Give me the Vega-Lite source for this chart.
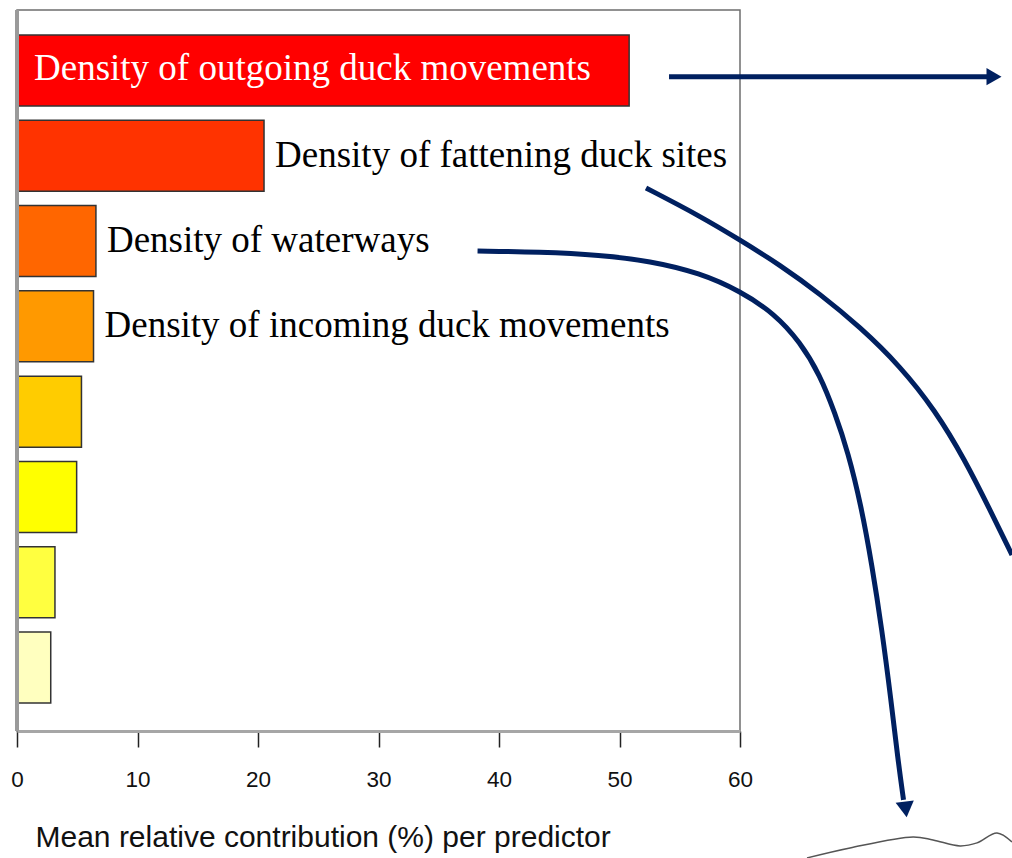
{
  "$schema": "https://vega.github.io/schema/vega-lite/v6.json",
  "width": 723,
  "height": 721,
  "autosize": {"type": "none"},
  "padding": {"left": 17, "top": 10, "right": 272, "bottom": 127},
  "background": "white",
  "config": {"view": {"stroke": "#6e6e6e", "strokeWidth": 1.5}},
  "datasets": {
    "bars": [
      {"predictor": "Density of outgoing duck movements", "contribution": 50.8},
      {"predictor": "Density of fattening duck sites", "contribution": 20.5},
      {"predictor": "Density of waterways", "contribution": 6.55},
      {"predictor": "Density of incoming duck movements", "contribution": 6.35},
      {"predictor": "Predictor 5", "contribution": 5.35},
      {"predictor": "Predictor 6", "contribution": 4.95},
      {"predictor": "Predictor 7", "contribution": 3.15},
      {"predictor": "Predictor 8", "contribution": 2.8}
    ],
    "paths": [
      {"path": "outgoing", "i": 0, "x": 54.11, "y": 1.0727},
      {"path": "outgoing", "i": 1, "x": 80.6, "y": 1.0727},
      {"path": "fattening", "i": 0, "x": 52.2, "y": 2.3775},
      {"path": "fattening", "i": 1, "x": 56.68, "y": 2.7057},
      {"path": "fattening", "i": 2, "x": 60.0, "y": 2.9871},
      {"path": "fattening", "i": 3, "x": 63.32, "y": 3.2802},
      {"path": "fattening", "i": 4, "x": 66.64, "y": 3.6202},
      {"path": "fattening", "i": 5, "x": 69.96, "y": 4.007},
      {"path": "fattening", "i": 6, "x": 73.28, "y": 4.4642},
      {"path": "fattening", "i": 7, "x": 76.18, "y": 4.9801},
      {"path": "fattening", "i": 8, "x": 78.67, "y": 5.5662},
      {"path": "fattening", "i": 9, "x": 80.75, "y": 6.1524},
      {"path": "fattening", "i": 10, "x": 82.57, "y": 6.68},
      {"path": "waterways", "i": 0, "x": 38.22, "y": 3.1161},
      {"path": "waterways", "i": 1, "x": 43.4, "y": 3.1278},
      {"path": "waterways", "i": 2, "x": 48.38, "y": 3.163},
      {"path": "waterways", "i": 3, "x": 52.53, "y": 3.2333},
      {"path": "waterways", "i": 4, "x": 56.68, "y": 3.374},
      {"path": "waterways", "i": 5, "x": 60.0, "y": 3.585},
      {"path": "waterways", "i": 6, "x": 62.9, "y": 3.8546},
      {"path": "waterways", "i": 7, "x": 64.98, "y": 4.1829},
      {"path": "waterways", "i": 8, "x": 66.64, "y": 4.57},
      {"path": "waterways", "i": 9, "x": 67.88, "y": 5.016},
      {"path": "waterways", "i": 10, "x": 68.96, "y": 5.473},
      {"path": "waterways", "i": 11, "x": 70.04, "y": 6.094},
      {"path": "waterways", "i": 12, "x": 70.95, "y": 6.797},
      {"path": "waterways", "i": 13, "x": 71.78, "y": 7.559},
      {"path": "waterways", "i": 14, "x": 72.53, "y": 8.38},
      {"path": "waterways", "i": 15, "x": 73.11, "y": 9.083},
      {"path": "waterways", "i": 16, "x": 73.57, "y": 9.552},
      {"path": "map outline", "i": 0, "x": 65.56, "y": 10.232},
      {"path": "map outline", "i": 1, "x": 69.13, "y": 10.115},
      {"path": "map outline", "i": 2, "x": 74.36, "y": 9.986},
      {"path": "map outline", "i": 3, "x": 76.02, "y": 10.021},
      {"path": "map outline", "i": 4, "x": 78.26, "y": 10.091},
      {"path": "map outline", "i": 5, "x": 79.67, "y": 10.056},
      {"path": "map outline", "i": 6, "x": 81.33, "y": 9.939},
      {"path": "map outline", "i": 7, "x": 82.57, "y": 10.045}
    ],
    "heads": [
      {"head": "outgoing", "x": 81.08, "y": 1.0727},
      {"head": "waterways", "x": 73.75, "y": 9.664}
    ]
  },
  "layer": [
    {
      "layer": [
        {
          "data": {"name": "bars"},
          "mark": {"type": "bar", "stroke": "#333333", "strokeWidth": 1.5},
          "encoding": {
            "y": {"field": "predictor", "type": "nominal", "sort": null, "axis": null,
                  "scale": {"paddingInner": 0.1675, "paddingOuter": 0.3105, "align": 0.472}},
            "x": {"field": "contribution", "type": "quantitative",
                  "scale": {"domain": [0, 60], "nice": false, "zero": true},
                  "axis": {"title": "Mean relative contribution (%) per predictor", "values": [0, 10, 20, 30, 40, 50, 60], "grid": false, "domainColor": "#a6a6a6", "domainWidth": 3, "tickColor": "#222222", "tickWidth": 1.5, "tickSize": 16, "labelFont": "Liberation Sans", "labelFontSize": 22.5, "labelColor": "#111111", "labelPadding": 21, "labelFlush": false, "labelOverlap": false, "titleFont": "Liberation Sans", "titleFontSize": 30, "titleFontWeight": "normal", "titleColor": "#111111", "titleX": 18, "titleY": 115, "titleAlign": "left", "titleAnchor": "start", "titleBaseline": "alphabetic"}},
            "color": {"field": "predictor", "type": "nominal", "sort": null, "legend": null,
                      "scale": {"range": ["#FF0000", "#FF3300", "#FF6600", "#FF9900", "#FFCC00", "#FFFF00", "#FFFF40", "#FFFFBF"]}}
          }
        },
        {
          "data": {"name": "bars"},
          "mark": {"type": "rule", "color": "#9a9a9a", "strokeWidth": 3},
          "encoding": {"x": {"datum": 0, "type": "quantitative", "scale": {"domain": [0, 60]},
            "axis": {"title": "Mean relative contribution (%) per predictor", "values": [0, 10, 20, 30, 40, 50, 60], "grid": false, "domainColor": "#a6a6a6", "domainWidth": 3, "tickColor": "#222222", "tickWidth": 1.5, "tickSize": 16, "labelFont": "Liberation Sans", "labelFontSize": 22.5, "labelColor": "#111111", "labelPadding": 21, "labelFlush": false, "labelOverlap": false, "titleFont": "Liberation Sans", "titleFontSize": 30, "titleFontWeight": "normal", "titleColor": "#111111", "titleX": 18, "titleY": 115, "titleAlign": "left", "titleAnchor": "start", "titleBaseline": "alphabetic"}}}
        },
        {
          "data": {"name": "bars"},
          "transform": [{"filter": {"field": "predictor", "equal": "Density of outgoing duck movements"}}],
          "mark": {"type": "text", "font": "Liberation Serif", "fontSize": 37, "color": "white",
                   "align": "left", "baseline": "middle", "dx": 17, "dy": -2},
          "encoding": {
            "y": {"field": "predictor", "type": "nominal", "sort": null},
            "x": {"datum": 0, "type": "quantitative", "scale": {"domain": [0, 60]},
              "axis": {"title": "Mean relative contribution (%) per predictor", "values": [0, 10, 20, 30, 40, 50, 60], "grid": false, "domainColor": "#a6a6a6", "domainWidth": 3, "tickColor": "#222222", "tickWidth": 1.5, "tickSize": 16, "labelFont": "Liberation Sans", "labelFontSize": 22.5, "labelColor": "#111111", "labelPadding": 21, "labelFlush": false, "labelOverlap": false, "titleFont": "Liberation Sans", "titleFontSize": 30, "titleFontWeight": "normal", "titleColor": "#111111", "titleX": 18, "titleY": 115, "titleAlign": "left", "titleAnchor": "start", "titleBaseline": "alphabetic"}},
            "text": {"field": "predictor"}
          }
        },
        {
          "data": {"name": "bars"},
          "transform": [{"filter": {"field": "predictor", "oneOf": ["Density of fattening duck sites", "Density of waterways", "Density of incoming duck movements"]}}],
          "mark": {"type": "text", "font": "Liberation Serif", "fontSize": 37, "color": "black",
                   "align": "left", "baseline": "middle", "dx": 11, "dy": 0},
          "encoding": {
            "y": {"field": "predictor", "type": "nominal", "sort": null},
            "x": {"field": "contribution", "type": "quantitative", "scale": {"domain": [0, 60]},
              "axis": {"title": "Mean relative contribution (%) per predictor", "values": [0, 10, 20, 30, 40, 50, 60], "grid": false, "domainColor": "#a6a6a6", "domainWidth": 3, "tickColor": "#222222", "tickWidth": 1.5, "tickSize": 16, "labelFont": "Liberation Sans", "labelFontSize": 22.5, "labelColor": "#111111", "labelPadding": 21, "labelFlush": false, "labelOverlap": false, "titleFont": "Liberation Sans", "titleFontSize": 30, "titleFontWeight": "normal", "titleColor": "#111111", "titleX": 18, "titleY": 115, "titleAlign": "left", "titleAnchor": "start", "titleBaseline": "alphabetic"}},
            "text": {"field": "predictor"}
          }
        }
      ]
    },
    {
      "layer": [
        {
          "data": {"name": "paths"},
          "transform": [{"filter": "datum.path != 'map outline'"}],
          "mark": {"type": "line", "color": "#002060", "strokeWidth": 5, "interpolate": "basis", "clip": false},
          "encoding": {
            "x": {"field": "x", "type": "quantitative", "scale": {"domain": [0, 60]},
              "axis": {"title": "Mean relative contribution (%) per predictor", "values": [0, 10, 20, 30, 40, 50, 60], "grid": false, "domainColor": "#a6a6a6", "domainWidth": 3, "tickColor": "#222222", "tickWidth": 1.5, "tickSize": 16, "labelFont": "Liberation Sans", "labelFontSize": 22.5, "labelColor": "#111111", "labelPadding": 21, "labelFlush": false, "labelOverlap": false, "titleFont": "Liberation Sans", "titleFontSize": 30, "titleFontWeight": "normal", "titleColor": "#111111", "titleX": 18, "titleY": 115, "titleAlign": "left", "titleAnchor": "start", "titleBaseline": "alphabetic"}},
            "y": {"field": "y", "type": "quantitative", "axis": null,
                  "scale": {"domain": [0.2907, 8.744], "reverse": true, "nice": false, "zero": false}},
            "detail": {"field": "path"},
            "order": {"field": "i"}
          }
        },
        {
          "data": {"name": "paths"},
          "transform": [{"filter": "datum.path == 'map outline'"}],
          "mark": {"type": "line", "color": "#555555", "strokeWidth": 1.5, "interpolate": "catmull-rom", "clip": false},
          "encoding": {
            "x": {"field": "x", "type": "quantitative", "scale": {"domain": [0, 60]},
              "axis": {"title": "Mean relative contribution (%) per predictor", "values": [0, 10, 20, 30, 40, 50, 60], "grid": false, "domainColor": "#a6a6a6", "domainWidth": 3, "tickColor": "#222222", "tickWidth": 1.5, "tickSize": 16, "labelFont": "Liberation Sans", "labelFontSize": 22.5, "labelColor": "#111111", "labelPadding": 21, "labelFlush": false, "labelOverlap": false, "titleFont": "Liberation Sans", "titleFontSize": 30, "titleFontWeight": "normal", "titleColor": "#111111", "titleX": 18, "titleY": 115, "titleAlign": "left", "titleAnchor": "start", "titleBaseline": "alphabetic"}},
            "y": {"field": "y", "type": "quantitative", "axis": null},
            "order": {"field": "i"}
          }
        },
        {
          "data": {"name": "heads"},
          "transform": [{"filter": "datum.head == 'outgoing'"}],
          "mark": {"type": "point", "shape": "triangle-right", "filled": true, "color": "#002060", "opacity": 1, "size": 300, "clip": false},
          "encoding": {
            "x": {"field": "x", "type": "quantitative", "scale": {"domain": [0, 60]},
              "axis": {"title": "Mean relative contribution (%) per predictor", "values": [0, 10, 20, 30, 40, 50, 60], "grid": false, "domainColor": "#a6a6a6", "domainWidth": 3, "tickColor": "#222222", "tickWidth": 1.5, "tickSize": 16, "labelFont": "Liberation Sans", "labelFontSize": 22.5, "labelColor": "#111111", "labelPadding": 21, "labelFlush": false, "labelOverlap": false, "titleFont": "Liberation Sans", "titleFontSize": 30, "titleFontWeight": "normal", "titleColor": "#111111", "titleX": 18, "titleY": 115, "titleAlign": "left", "titleAnchor": "start", "titleBaseline": "alphabetic"}},
            "y": {"field": "y", "type": "quantitative", "axis": null}
          }
        },
        {
          "data": {"name": "heads"},
          "transform": [{"filter": "datum.head == 'waterways'"}],
          "mark": {"type": "point", "shape": "triangle-down", "filled": true, "color": "#002060", "opacity": 1, "size": 335, "angle": -7, "clip": false},
          "encoding": {
            "x": {"field": "x", "type": "quantitative", "scale": {"domain": [0, 60]},
              "axis": {"title": "Mean relative contribution (%) per predictor", "values": [0, 10, 20, 30, 40, 50, 60], "grid": false, "domainColor": "#a6a6a6", "domainWidth": 3, "tickColor": "#222222", "tickWidth": 1.5, "tickSize": 16, "labelFont": "Liberation Sans", "labelFontSize": 22.5, "labelColor": "#111111", "labelPadding": 21, "labelFlush": false, "labelOverlap": false, "titleFont": "Liberation Sans", "titleFontSize": 30, "titleFontWeight": "normal", "titleColor": "#111111", "titleX": 18, "titleY": 115, "titleAlign": "left", "titleAnchor": "start", "titleBaseline": "alphabetic"}},
            "y": {"field": "y", "type": "quantitative", "axis": null}
          }
        }
      ]
    }
  ],
  "resolve": {"scale": {"y": "independent"}}
}
